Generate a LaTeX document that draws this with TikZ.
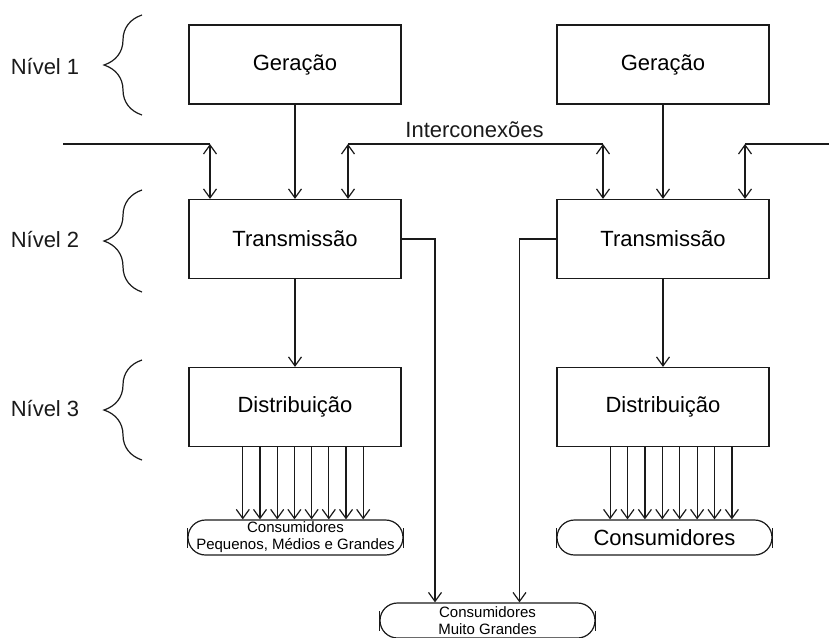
\documentclass[tikz,border=0pt]{standalone}
\usepackage{fontspec}
\setmainfont{Liberation Sans}
\usepackage{tikz}
\usepackage{xcolor}
\usetikzlibrary{arrows.meta,positioning,calc,decorations.pathreplacing}
\definecolor{traco}{HTML}{1A1A1A}
\tikzset{
  bloco/.style={draw=traco,line width=1.2pt,
                minimum width=212pt,minimum height=79pt,
                inner sep=0pt,font=\fontsize{22}{26}\selectfont},
  consumo/.style={draw=traco,line width=1.2pt,rounded corners=17.5pt,
                  minimum width=215pt,minimum height=35pt,
                  inner sep=0pt,align=center,font=\fontsize{15}{17}\selectfont},
  rotulo/.style={font=\fontsize{22}{26}\selectfont,text=traco},
  linha/.style={line width=1.2pt,draw=traco},
  seta/.style={-{Straight Barb[length=9pt,width=13pt]},line width=1.2pt,draw=traco},
  dupla/.style={{Straight Barb[length=9pt,width=13pt]}-{Straight Barb[length=9pt,width=13pt]},
                line width=1.2pt,draw=traco},
  chave/.style={decorate,decoration={brace,amplitude=38pt},line width=1.2pt,draw=traco}
}

\begin{document}
\begin{tikzpicture}[x=1pt,y=-1pt]
  \useasboundingbox (0,0) rectangle (829,637);
  % niveis
  \node[rotulo] (niv1) at (45,67) {Nível 1};
  \node[rotulo] (niv2) at (45,240) {Nível 2};
  \node[rotulo] (niv3) at (45,409) {Nível 3};
  \draw[chave] (142,115) -- (142,15);
  \draw[chave] (142,292) -- (142,190);
  \draw[chave] (142,460) -- (142,360);
  % blocos
  \node[bloco] (gerL) at (295,64.5) {Geração};
  \node[bloco] (gerR) at (663,64.5) {Geração};
  \node[bloco] (traL) at (295,239) {Transmissão};
  \node[bloco] (traR) at (663,239) {Transmissão};
  \node[bloco] (disL) at (295,407) {Distribuição};
  \node[bloco] (disR) at (663,407) {Distribuição};
  \node[consumo] (conL) at (295.5,537.5) {Consumidores\\Pequenos, Médios e Grandes};
  \node[consumo,font=\fontsize{22}{26}\selectfont] (conR) at (664.5,537.5) {Consumidores};
  \node[consumo] (conMG) at (487.5,620.5) {Consumidores\\Muito Grandes};
  \foreach \c in {conL,conR,conMG}
    \draw[linha] ([yshift=-10pt]\c.west) -- ([yshift=10pt]\c.west)
                 ([yshift=-10pt]\c.east) -- ([yshift=10pt]\c.east);
  % interconexoes
  \node[rotulo,anchor=base] (inter) at (474.5,137) {Interconexões};
  \coordinate (entL) at (63,144);
  \coordinate (jL) at (210,144);
  \coordinate (icL) at (348,144);
  \coordinate (icR) at (603,144);
  \coordinate (jR) at (745,144);
  \coordinate (saiR) at (829,144);
  \draw[linha] (entL) -- (jL);
  \draw[linha] (icL) -- (icR);
  \draw[linha] (jR) -- (saiR);
  \draw[dupla] (jL) -- (jL |- traL.north);
  \draw[dupla] (icL) -- (icL |- traL.north);
  \draw[dupla] (icR) -- (icR |- traR.north);
  \draw[dupla] (jR) -- (jR |- traR.north);
  % fluxo
  \draw[seta] (gerL) -- (traL);
  \draw[seta] (gerR) -- (traR);
  \draw[seta] (traL) -- (disL);
  \draw[seta] (traR) -- (disR);
  \draw[seta] (traL.east) -| ([xshift=-52.5pt]conMG.north);
  \draw[seta] (traR.west) -| ([xshift=32pt]conMG.north);
  \foreach \i in {0,...,7}{
    \draw[seta] ([xshift={(\i-3.5)*17.2+8}]disL.south) -- ([xshift={(\i-3.5)*17.2+8}]disL.south |- conL.north);
    \draw[seta] ([xshift={(\i-3.5)*17.4+8}]disR.south) -- ([xshift={(\i-3.5)*17.4+8}]disR.south |- conR.north);
  }
\end{tikzpicture}
\end{document}
